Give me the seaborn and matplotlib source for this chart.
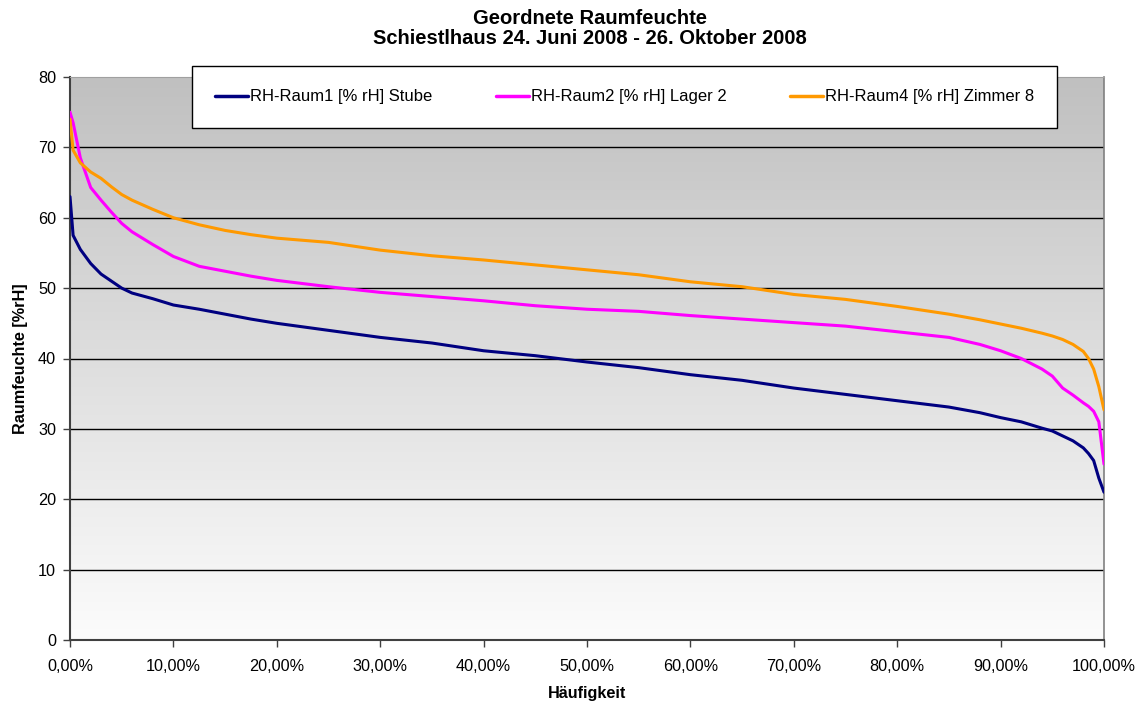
import numpy as np
import pandas as pd
import matplotlib
matplotlib.use('Agg')
import matplotlib.pyplot as plt
from matplotlib.ticker import FuncFormatter, MultipleLocator
from matplotlib.colors import LinearSegmentedColormap
import seaborn as sns

# ---- Daten ----
haeufigkeit = [0, 0.3, 1, 2, 3, 4, 5, 6, 8, 10, 12.5, 15, 17.5, 20, 25, 30, 35, 40,
               45, 50, 55, 60, 65, 70, 75, 80, 85, 88, 90, 92, 94, 95, 96, 97, 98,
               98.5, 99, 99.5, 100]

rh_raum1 = [63, 57.5, 55.5, 53.5, 52, 51, 50, 49.3, 48.5, 47.6, 47, 46.3, 45.6, 45,
            44, 43, 42.2, 41.1, 40.4, 39.5, 38.7, 37.7, 36.9, 35.8, 34.9, 34, 33.1,
            32.3, 31.6, 31, 30.1, 29.7, 29, 28.3, 27.3, 26.5, 25.5, 23, 21]

rh_raum2 = [75, 73.5, 68.5, 64.3, 62.5, 60.8, 59.2, 58, 56.2, 54.5, 53.1, 52.4, 51.7,
            51.1, 50.2, 49.4, 48.8, 48.2, 47.5, 47, 46.7, 46.1, 45.6, 45.1, 44.6, 43.8,
            43, 42, 41.1, 40, 38.5, 37.5, 35.8, 34.8, 33.7, 33.2, 32.5, 31, 25]

rh_raum4 = [74, 69.6, 67.8, 66.5, 65.6, 64.4, 63.3, 62.5, 61.2, 60, 59, 58.2, 57.6,
            57.1, 56.5, 55.4, 54.6, 54, 53.3, 52.6, 51.9, 50.9, 50.2, 49.1, 48.4, 47.4,
            46.3, 45.5, 44.9, 44.3, 43.6, 43.2, 42.7, 42, 41, 40, 38.5, 36, 32.7]

serien = ['RH-Raum1 [% rH] Stube', 'RH-Raum2 [% rH] Lager 2', 'RH-Raum4 [% rH] Zimmer 8']
farben = ['#000080', '#FF00FF', '#FF9900']

sns.set_style('white')
plt.rcParams['font.family'] = ['Liberation Sans', 'DejaVu Sans']
plt.rcParams['text.color'] = 'black'
plt.rcParams['axes.labelcolor'] = 'black'
plt.rcParams['xtick.color'] = 'black'
plt.rcParams['ytick.color'] = 'black'


def main():
    df = pd.concat([
        pd.DataFrame({'x': np.array(haeufigkeit) / 100.0, 'rh': werte, 'serie': name})
        for name, werte in zip(serien, [rh_raum1, rh_raum2, rh_raum4])
    ], ignore_index=True)

    fig = plt.figure(figsize=(11.4, 7.04), dpi=100)
    ax = fig.add_axes([70 / 1140, 1 - 640 / 704, 1034 / 1140, 563 / 704])

    # Hintergrund: Verlauf grau -> weiss
    cmap = LinearSegmentedColormap.from_list('bg', ['#FCFCFC', '#C0C0C0'])
    grad = np.linspace(0, 1, 256).reshape(-1, 1)
    ax.imshow(grad, extent=[0, 1, 0, 80], origin='lower', aspect='auto',
              cmap=cmap, zorder=0)

    for y in range(10, 80, 10):
        ax.axhline(y, color='black', lw=1.0, zorder=1)

    sns.lineplot(data=df, x='x', y='rh', hue='serie', palette=farben,
                 hue_order=serien, lw=2.2, ax=ax, legend=False, zorder=3,
                 sort=False, estimator=None)

    ax.set_xlim(0, 1)
    ax.set_ylim(0, 80)
    ax.xaxis.set_major_locator(MultipleLocator(0.1))
    ax.yaxis.set_major_locator(MultipleLocator(10))
    ax.xaxis.set_major_formatter(FuncFormatter(lambda v, p: f'{v * 100:.2f}%'.replace('.', ',')))
    ax.tick_params(axis='both', direction='out', length=5, width=1, color='#404040',
                   labelcolor='black', labelsize=11.7, bottom=True, left=True)
    ax.tick_params(axis='x', pad=9)
    ax.tick_params(axis='y', pad=5)

    for s in ['left', 'bottom']:
        ax.spines[s].set_color('#404040')
        ax.spines[s].set_linewidth(1.5)
    ax.spines['right'].set_color('#808080')
    ax.spines['right'].set_linewidth(1.2)
    ax.spines['top'].set_color('#A0A0A0')
    ax.spines['top'].set_linewidth(0.8)

    ax.set_xlabel('Häufigkeit', fontsize=11.7, fontweight='bold', labelpad=8)
    ax.set_ylabel('Raumfeuchte [%rH]', fontsize=11.7, fontweight='bold', labelpad=7)

    # Titel ueber der Mitte der Zeichenflaeche
    fig.text(590 / 1140, 1 - 18 / 704, 'Geordnete Raumfeuchte', ha='center', va='center',
             fontsize=14.5, fontweight='bold')
    fig.text(590 / 1140, 1 - 39 / 704, 'Schiestlhaus 24. Juni 2008 - 26. Oktober 2008',
             ha='center', va='center', fontsize=14.5, fontweight='bold')

    handles = [plt.Line2D([], [], color=c, lw=2.5) for c in farben]
    leg = fig.legend(handles, serien, loc='center', ncol=3,
                     bbox_to_anchor=((185 + 1064) / 2 / 1140, 1 - 97 / 704),
                     frameon=True, fancybox=False, framealpha=1,
                     edgecolor='black', fontsize=12, handlelength=2.0, handletextpad=0.1,
                     columnspacing=3.8, borderaxespad=0, borderpad=1.4)
    leg.get_frame().set_linewidth(1.0)

    fig.savefig('out.png', dpi=100)
    plt.close(fig)


if __name__ == '__main__':
    main()
